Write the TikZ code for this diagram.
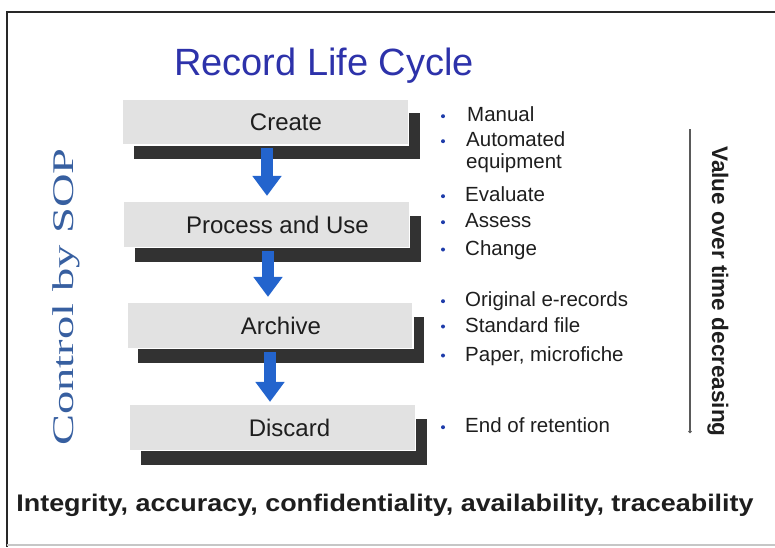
\documentclass[tikz,border=0pt]{standalone}
\usepackage{fontspec}
\usepackage{graphicx}
\setmainfont{Liberation Sans}
\newfontfamily\serifsop{Liberation Serif}
\usetikzlibrary{arrows.meta,shadows,calc}
\definecolor{boxfill}{RGB}{226,226,226}
\definecolor{shadowc}{RGB}{50,50,50}
\definecolor{titlec}{RGB}{45,50,170}
\definecolor{sopc}{RGB}{55,95,160}
\definecolor{sopshade}{RGB}{200,210,225}
\definecolor{bulletc}{RGB}{30,60,170}
\definecolor{textc}{RGB}{30,30,30}
\definecolor{arrowc}{RGB}{35,100,205}
\definecolor{framec}{RGB}{40,40,40}
\definecolor{linec}{RGB}{90,90,90}
\begin{document}
\begin{tikzpicture}[x=1pt,y=-1pt,
  stepbox/.style={draw=white,line width=1.2pt,fill=boxfill,minimum width=286pt,minimum height=46pt,inner sep=0pt,
    font=\fontsize{24}{28}\selectfont,text=textc,
    drop shadow={shadow xshift=11pt,shadow yshift=-14pt,opacity=1,fill=shadowc}},
  blockarrow/.style={line width=12.5pt,draw=arrowc,-{Triangle[width=28pt,length=20pt]}},
  bulletdot/.style={circle,fill=bulletc,inner sep=0pt,minimum size=4pt},
  itemtext/.style={anchor=base west,inner sep=0pt,font=\fontsize{20.5}{24}\selectfont,text=textc},
  soptext/.style={rotate=90,anchor=base,inner sep=0pt,font=\serifsop\fontsize{30}{34}\selectfont},
]
\useasboundingbox (0,0) rectangle (775,547);
% frame
\draw[framec,line width=2.5pt] (7,12) -- (775,12);
\draw[framec,line width=2pt] (7,11) -- (7,547);
\draw[gray!45,line width=1.5pt] (7,545) -- (775,545);

% title
\node[anchor=base,inner sep=0pt,font=\fontsize{38}{44}\selectfont,text=titlec] (title) at (324,75) {Record Life Cycle};

% side label
\node[soptext,text=sopc] (sop) at (73,297) {\scalebox{1.55}[1]{Control by SOP}};

% boxes
\node[stepbox] (create) at (265.5,122) {\hspace*{41pt}Create};
\node[stepbox] (process) at (266.5,224.5) {\hspace*{22pt}Process and Use};
\node[stepbox] (archive) at (270,325.5) {\hspace*{22pt}Archive};
\node[stepbox] (discard) at (272.5,427.5) {\hspace*{34pt}Discard};

% arrows
\coordinate (a1s) at ($(create.south)+(1.5,2.5)$);
\coordinate (a2s) at ($(process.south)+(1.5,3)$);
\coordinate (a3s) at ($(archive.south)+(0,3)$);
\draw[blockarrow] (a1s) -- ($(a1s |- process.north)+(0,-5)$);
\draw[blockarrow] (a2s) -- ($(a2s |- archive.north)+(0,-5)$);
\draw[blockarrow] (a3s) -- ($(a3s |- discard.north)+(0,-2)$);

% bullet lists
\node[bulletdot] (b1) at (443,116.2) {};
\node[itemtext] (t1) at (467,121.7) {Manual};
\node[bulletdot] (b2) at (443,141.2) {};
\node[itemtext] (t2) at (466,146.7) {Automated};
\node[itemtext] (t2b) at (466,168) {equipment};

\node[bulletdot] (b3) at (443,196.2) {};
\node[itemtext] (t3) at (465,201.7) {Evaluate};
\node[bulletdot] (b4) at (443,222.2) {};
\node[itemtext] (t4) at (465,227.7) {Assess};
\node[bulletdot] (b5) at (443,249.5) {};
\node[itemtext] (t5) at (465,255) {Change};

\node[bulletdot] (b6) at (443,301.2) {};
\node[itemtext] (t6) at (465,306.7) {Original e-records};
\node[bulletdot] (b7) at (443,326.5) {};
\node[itemtext] (t7) at (465,332) {Standard file};
\node[bulletdot] (b8) at (443,355.5) {};
\node[itemtext] (t8) at (465,361) {Paper, microfiche};

\node[bulletdot] (b9) at (443,427.2) {};
\node[itemtext] (t9) at (465,432.7) {End of retention};

% value line
\coordinate (vtop) at (690,129);
\coordinate (vbot) at (690,433);
\draw[linec,line width=1.3pt,-{Circle[length=3.2pt]}] (vtop) -- (vbot);
\node[rotate=-90,inner sep=0pt,font=\bfseries\fontsize{22.5}{26}\selectfont,text=textc] (value) at (718,291.5) {Value over time decreasing};

% bottom line
\node[anchor=base,inner sep=0pt,font=\bfseries\fontsize{24}{28}\selectfont,text=textc] (qual) at (385,511) {\scalebox{1.122}[1]{Integrity, accuracy, confidentiality, availability, traceability}};
\end{tikzpicture}
\end{document}
